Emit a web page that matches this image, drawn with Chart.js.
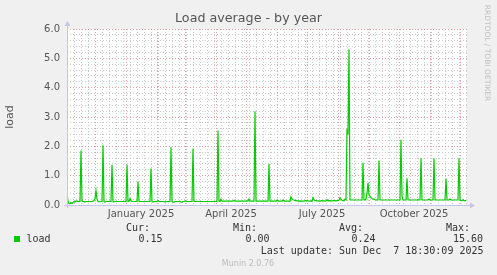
<!DOCTYPE html>
<html>
<head>
<meta charset="utf-8">
<script src="https://cdn.jsdelivr.net/npm/chart.js@4.4.0/dist/chart.umd.min.js"></script>
<style>
  html, body { margin: 0; padding: 0; background: #f0f0f0; }
  #wrap { width: 497px; height: 275px; position: relative; }
</style>
</head>
<body>
<div id="wrap"><canvas id="loadChart"></canvas></div>
<script>
// first day shown on the graph (one pixel per day, 400 days)
const startDate = '2024-11-03';
const dayCount = 400;

// daily load average
const loadValues = [
  0.45,0.12,0.05,0.04,0.08,0.05,0.09,0.12,0.10,0.14, 0.13,0.12,0.12,0.12,1.86,0.13,0.12,0.12,0.10,0.12,
  0.12,0.12,0.12,0.12,0.12,0.12,0.13,0.15,0.22,0.49, 0.20,0.12,0.11,0.11,0.12,0.12,2.04,0.12,0.10,0.12,
  0.12,0.12,0.12,0.12,0.12,1.37,0.12,0.11,0.12,0.12, 0.12,0.12,0.12,0.12,0.12,0.12,0.12,0.12,0.12,0.12,
  1.38,0.12,0.12,0.22,0.15,0.12,0.12,0.12,0.12,0.12, 0.12,0.80,0.12,0.12,0.12,0.12,0.12,0.12,0.12,0.12,
  0.12,0.12,0.12,0.12,1.24,0.12,0.10,0.12,0.12,0.12, 0.12,0.15,0.12,0.12,0.12,0.12,0.12,0.12,0.10,0.12,
  0.12,0.12,0.12,0.12,1.97,0.12,0.10,0.10,0.12,0.12, 0.12,0.12,0.12,0.12,0.10,0.10,0.12,0.12,0.14,0.12,
  0.12,0.12,0.12,0.12,0.12,0.12,1.93,0.12,0.12,0.12, 0.12,0.12,0.12,0.12,0.12,0.12,0.12,0.12,0.12,0.12,
  0.12,0.12,0.12,0.12,0.12,0.12,0.12,0.12,0.12,0.12, 0.12,2.54,0.12,0.12,0.20,0.13,0.13,0.13,0.13,0.13,
  0.13,0.13,0.13,0.13,0.13,0.13,0.14,0.16,0.13,0.13, 0.13,0.13,0.13,0.13,0.13,0.13,0.13,0.13,0.13,0.13,
  0.13,0.14,0.20,0.13,0.13,0.13,0.13,0.13,3.20,0.13, 0.13,0.13,0.13,0.13,0.13,0.13,0.13,0.13,0.13,0.13,
  0.13,0.13,1.40,0.13,0.13,0.13,0.13,0.13,0.13,0.13, 0.17,0.14,0.13,0.13,0.13,0.13,0.17,0.14,0.13,0.13,
  0.13,0.13,0.13,0.13,0.28,0.20,0.18,0.17,0.15,0.16, 0.14,0.14,0.13,0.14,0.13,0.13,0.13,0.13,0.14,0.15,
  0.14,0.14,0.13,0.13,0.14,0.13,0.25,0.18,0.15,0.15, 0.14,0.14,0.13,0.13,0.14,0.15,0.14,0.14,0.13,0.14,
  0.18,0.15,0.14,0.15,0.14,0.14,0.14,0.15,0.15,0.14, 0.15,0.15,0.16,0.25,0.20,0.16,0.15,0.14,0.20,0.17,
  2.60,2.40,5.31,0.18,0.17,0.17,0.17,0.17,0.17,0.17, 0.17,0.17,0.17,0.17,0.17,0.17,1.44,0.18,0.17,0.20,
  0.40,0.76,0.35,0.30,0.25,0.22,0.20,0.20,0.18,0.17, 0.17,0.17,1.52,0.17,0.17,0.17,0.17,0.17,0.17,0.17,
  0.17,0.17,0.17,0.17,0.17,0.17,0.17,0.17,0.17,0.17, 0.17,0.17,0.17,0.17,2.22,0.30,0.17,0.17,0.17,0.17,
  0.91,0.17,0.17,0.17,0.17,0.17,0.17,0.17,0.17,0.17, 0.17,0.18,0.17,0.17,1.59,0.17,0.17,0.17,0.17,0.17,
  0.17,0.17,0.20,0.17,0.17,0.17,0.17,1.59,0.17,0.17, 0.17,0.17,0.17,0.17,0.17,0.17,0.17,0.17,0.17,0.90,
  0.17,0.17,0.17,0.20,0.17,0.17,0.17,0.17,0.17,0.17, 0.17,0.17,1.59,0.17,0.15,0.15,0.18,0.15,0.15,0.15
];

// month boundaries (red grid) and quarter labels
const monthStarts = ['2024-12-01','2025-01-01','2025-02-01','2025-03-01','2025-04-01','2025-05-01',
  '2025-06-01','2025-07-01','2025-08-01','2025-09-01','2025-10-01','2025-11-01','2025-12-01'];
const labelMonths = ['2025-01-01','2025-04-01','2025-07-01','2025-10-01'];
const labelTexts = ['January 2025','April 2025','July 2025','October 2025'];

const statNames = ['Cur:','Min:','Avg:','Max:'];
const statValues = ['0.15','0.00','0.24','15.60'];
const lastUpdate = 'Last update: Sun Dec  7 18:30:09 2025';

const toDay = s => (Date.parse(s) - Date.parse(startDate)) / 864e5;

const monthDays = monthStarts.map(toDay);
const labelDays = labelMonths.map(d => toDay(d) + 15);
const weekDays = [];
for (let d = 0; d < dayCount; d += 7) {
  if (!monthDays.includes(d)) weekDays.push(d);
}

const majorColor = 'rgba(225,150,150,0.9)';
const minorColor = 'rgba(195,195,195,0.9)';
const axisColor = '#c4c4ec';
const textColor = '#555555';

const munin = {
  id: 'munin',
  beforeDraw(chart) {
    const { ctx, chartArea: a } = chart;
    ctx.save();
    ctx.fillStyle = '#f0f0f0';
    ctx.fillRect(0, 0, chart.width, chart.height);
    ctx.fillStyle = '#ffffff';
    ctx.fillRect(a.left, a.top, a.right - a.left, a.bottom - a.top);
    ctx.restore();
  },
  afterDraw(chart) {
    const { ctx, chartArea: a } = chart;
    ctx.save();
    // axes with arrows
    ctx.strokeStyle = axisColor;
    ctx.fillStyle = axisColor;
    ctx.lineWidth = 1;
    ctx.beginPath();
    ctx.moveTo(a.left + 0.5, a.bottom + 3);
    ctx.lineTo(a.left + 0.5, a.top - 4);
    ctx.moveTo(a.left - 3, a.bottom + 0.5);
    ctx.lineTo(a.right + 4, a.bottom + 0.5);
    ctx.stroke();
    ctx.beginPath();
    ctx.moveTo(a.left - 2.5, a.top - 3);
    ctx.lineTo(a.left + 3.5, a.top - 3);
    ctx.lineTo(a.left + 0.5, a.top - 8);
    ctx.closePath();
    ctx.fill();
    ctx.beginPath();
    ctx.moveTo(a.right + 3, a.bottom - 2.5);
    ctx.lineTo(a.right + 3, a.bottom + 3.5);
    ctx.lineTo(a.right + 8, a.bottom + 0.5);
    ctx.closePath();
    ctx.fill();

    // title
    ctx.fillStyle = textColor;
    ctx.textBaseline = 'middle';
    ctx.textAlign = 'center';
    ctx.font = '12.7px "DejaVu Sans"';
    ctx.fillText('Load average - by year', 248.5, 19);

    // vertical label
    ctx.save();
    ctx.translate(10, (a.top + a.bottom) / 2);
    ctx.rotate(-Math.PI / 2);
    ctx.font = '11px "DejaVu Sans"';
    ctx.fillText('load', 0, 0);
    ctx.restore();

    // rrdtool credit
    ctx.save();
    ctx.translate(487, 53);
    ctx.rotate(Math.PI / 2);
    ctx.fillStyle = '#c0c0c0';
    ctx.font = '7.5px "DejaVu Sans"';
    ctx.fillText('RRDTOOL / TOBI OETIKER', 0, 0);
    ctx.restore();

    // legend
    ctx.font = '10px "DejaVu Sans Mono"';
    ctx.fillStyle = '#00cc00';
    ctx.fillRect(14, 236, 6, 6);
    ctx.fillStyle = '#333333';
    ctx.textAlign = 'left';
    ctx.fillText('load', 26.5, 239.5);
    ctx.textAlign = 'right';
    const colEnds = [150, 257, 363, 470];
    statNames.forEach((n, i) => ctx.fillText(n, colEnds[i], 228.5));
    statValues.forEach((v, i) => ctx.fillText(v, colEnds[i] + (i === 3 ? 13 : 12.5), 239.5));
    ctx.fillText(lastUpdate, 483.5, 251);

    ctx.textAlign = 'center';
    ctx.fillStyle = '#bcbcbc';
    ctx.font = '8px "DejaVu Sans"';
    ctx.fillText('Munin 2.0.76', 248, 264);
    ctx.restore();
  }
};

new Chart(document.getElementById('loadChart'), {
  type: 'line',
  data: {
    datasets: [{
      label: 'load',
      data: loadValues.map((v, i) => ({ x: i, y: v })),
      borderColor: '#00cc00',
      borderWidth: 1.2,
      pointRadius: 0,
      tension: 0,
      fill: false
    }]
  },
  options: {
    responsive: true,
    maintainAspectRatio: false,
    animation: false,
    events: [],
    layout: { padding: { left: 0, top: 29, right: 30, bottom: 50 } },
    plugins: { legend: { display: false }, tooltip: { enabled: false } },
    scales: {
      x: {
        type: 'linear',
        min: 0,
        max: dayCount,
        afterFit: s => { s.height = 20; },
        afterBuildTicks: s => {
          const all = [...weekDays, ...labelDays, ...monthDays].sort((a, b) => a - b);
          s.ticks = all.map(v => ({ value: v }));
        },
        ticks: {
          autoSkip: false,
          maxRotation: 0,
          minRotation: 0,
          padding: 3,
          color: textColor,
          font: { family: 'DejaVu Sans', size: 10 },
          callback: v => {
            const k = labelDays.indexOf(v);
            return k >= 0 ? labelTexts[k] : '';
          }
        },
        grid: {
          drawTicks: false,
          color: c => {
            const v = c.tick ? c.tick.value : -1;
            if (monthDays.includes(v)) return majorColor;
            if (weekDays.includes(v)) return minorColor;
            return 'rgba(0,0,0,0)';
          }
        },
        border: { display: false, dash: [1, 2] }
      },
      y: {
        min: 0,
        max: 6,
        afterFit: s => { s.width = 67; },
        ticks: {
          stepSize: 0.2,
          autoSkip: false,
          padding: 7,
          color: textColor,
          font: { family: 'DejaVu Sans', size: 10 },
          callback: v => (Math.round(v * 5) % 5 === 0 ? v.toFixed(1) : '')
        },
        grid: {
          drawTicks: false,
          color: c => (c.tick && Math.round(c.tick.value * 5) % 5 === 0 ? majorColor : minorColor)
        },
        border: { display: false, dash: [1, 2] }
      }
    }
  },
  plugins: [munin]
});
</script>
</body>
</html>
